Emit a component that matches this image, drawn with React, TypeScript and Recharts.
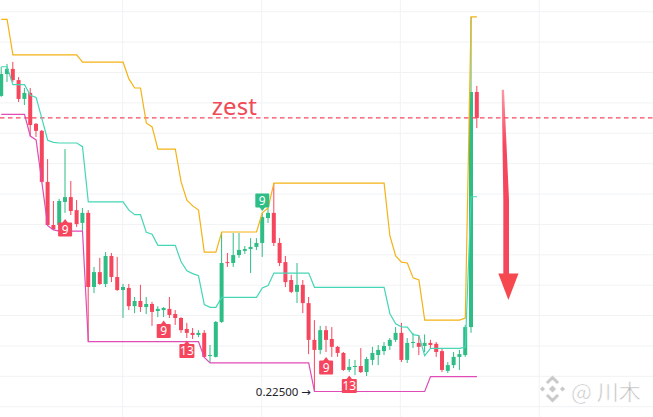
import React from "react";
import {
  ComposedChart,
  Bar,
  Line,
  XAxis,
  YAxis,
  CartesianGrid,
  ReferenceLine,
  ReferenceDot,
  ReferenceArea,
} from "recharts";

// ---- candle values (price) ----
const opens = [
  0.3223, 0.3295, 0.3312, 0.3275, 0.3213, 0.3233, 0.3131, 0.3108, 0.294, 0.2798,
  0.2798, 0.2874, 0.289, 0.2847, 0.2805, 0.2838, 0.2594, 0.2643, 0.2604, 0.2696,
  0.2627, 0.2584, 0.2591, 0.2531, 0.2548, 0.2528, 0.2538, 0.2515, 0.2518, 0.2522,
  0.2505, 0.2492, 0.2456, 0.2443, 0.2436, 0.2443, 0.2367, 0.2364, 0.2479, 0.2676,
  0.2673, 0.2699, 0.2713, 0.2719, 0.2726, 0.2739, 0.2821, 0.2838, 0.2739, 0.2676,
  0.2617, 0.2578, 0.2601, 0.2541, 0.242, 0.2387, 0.2452, 0.2423, 0.2397, 0.2377,
  0.2321, 0.2331, 0.2334, 0.2314, 0.2354, 0.237, 0.2383, 0.24, 0.242, 0.2443,
  0.2354, 0.241, 0.241, 0.24, 0.241, 0.2407, 0.2383, 0.2318, 0.2337, 0.2364,
  0.237, 0.2462, 0.3236,
];
const highs = [
  0.3318, 0.3328, 0.3335, 0.3285, 0.3249, 0.3249, 0.3134, 0.3111, 0.3015, 0.2877,
  0.2884, 0.3048, 0.2943, 0.288, 0.2854, 0.2847, 0.266, 0.269, 0.2709, 0.2706,
  0.2693, 0.2604, 0.2604, 0.2561, 0.2601, 0.2561, 0.2545, 0.2531, 0.2528, 0.2561,
  0.2518, 0.2495, 0.2476, 0.2459, 0.2452, 0.2452, 0.2403, 0.2482, 0.2775, 0.2706,
  0.2772, 0.2772, 0.2729, 0.2755, 0.2755, 0.2838, 0.2854, 0.2936, 0.2755, 0.2696,
  0.2634, 0.2673, 0.2617, 0.2561, 0.2485, 0.2466, 0.2466, 0.2462, 0.24, 0.238,
  0.2357, 0.2354, 0.2393, 0.2364, 0.2397, 0.2403, 0.2413, 0.2426, 0.2462, 0.2476,
  0.2426, 0.2443, 0.2436, 0.2438, 0.242, 0.2413, 0.239, 0.2347, 0.238, 0.2387,
  0.2469, 0.3483, 0.3256,
];
const lows = [
  0.322, 0.3269, 0.3269, 0.3203, 0.3193, 0.3091, 0.3088, 0.2938, 0.2796, 0.2782,
  0.2788, 0.2838, 0.2831, 0.2792, 0.2778, 0.2414, 0.2574, 0.2601, 0.2594, 0.261,
  0.2581, 0.2492, 0.2518, 0.2508, 0.2512, 0.2505, 0.2466, 0.2495, 0.2495, 0.2492,
  0.2469, 0.2443, 0.2426, 0.2423, 0.2429, 0.2362, 0.2344, 0.2362, 0.2476, 0.266,
  0.266, 0.269, 0.2703, 0.264, 0.2716, 0.2693, 0.2805, 0.2729, 0.2663, 0.2594,
  0.2574, 0.2541, 0.2508, 0.2373, 0.225, 0.2373, 0.238, 0.2364, 0.2364, 0.2318,
  0.2314, 0.2304, 0.2311, 0.2301, 0.2337, 0.2337, 0.237, 0.2387, 0.2413, 0.2347,
  0.2344, 0.2393, 0.237, 0.238, 0.2393, 0.2364, 0.2314, 0.2311, 0.2327, 0.2321,
  0.2364, 0.2443, 0.3117,
];
const closes = [
  0.3295, 0.3312, 0.3275, 0.3213, 0.3233, 0.3127, 0.3108, 0.294, 0.2798, 0.2784,
  0.2877, 0.289, 0.2844, 0.2801, 0.2838, 0.2594, 0.2643, 0.2604, 0.2696, 0.2627,
  0.2584, 0.2594, 0.2531, 0.2548, 0.2528, 0.2538, 0.2512, 0.2522, 0.2525, 0.2502,
  0.2492, 0.2452, 0.2443, 0.2436, 0.2443, 0.2364, 0.237, 0.2479, 0.2673, 0.2673,
  0.2699, 0.2716, 0.2719, 0.2726, 0.2739, 0.2824, 0.2838, 0.2739, 0.2673, 0.261,
  0.2578, 0.2601, 0.2541, 0.242, 0.2387, 0.2452, 0.242, 0.2397, 0.2377, 0.2321,
  0.2331, 0.2334, 0.2314, 0.2357, 0.2377, 0.2387, 0.24, 0.242, 0.2443, 0.2354,
  0.241, 0.2413, 0.2397, 0.241, 0.2403, 0.238, 0.2321, 0.2337, 0.2364, 0.2373,
  0.2462, 0.3236, 0.315,
];

// ---- channel lines (price) ----
const upperBand = [
  0.3475, 0.3475, 0.3358, 0.3358, 0.3358, 0.3358, 0.3358, 0.3358, 0.3358, 0.3358,
  0.3358, 0.3358, 0.3358, 0.3358, 0.3334, 0.3334, 0.3334, 0.3334, 0.3334, 0.3334,
  0.3334, 0.3334, 0.3279, 0.3249, 0.3249, 0.3134, 0.3121, 0.3048, 0.3048, 0.3048,
  0.3048, 0.294, 0.288, 0.2861, 0.2847, 0.2709, 0.2709, 0.2709, 0.2775, 0.2775,
  0.2775, 0.2775, 0.2775, 0.2775, 0.2775, 0.2838, 0.2854, 0.2936, 0.2936, 0.2936,
  0.2936, 0.2936, 0.2936, 0.2936, 0.2936, 0.2936, 0.2936, 0.2936, 0.2936, 0.2936,
  0.2936, 0.2936, 0.2936, 0.2936, 0.2936, 0.2936, 0.2936, 0.2762, 0.2696, 0.2676,
  0.2673, 0.2624, 0.2617, 0.2485, 0.2485, 0.2485, 0.2485, 0.2485, 0.2485, 0.2485,
  0.2492, 0.3483, 0.3483,
];
const middleBand = [
  0.3319, 0.3319, 0.326, 0.326, 0.326, 0.3225, 0.3218, 0.3148, 0.3077, 0.307,
  0.3068, 0.3068, 0.3068, 0.3068, 0.3056, 0.2874, 0.2874, 0.2874, 0.2874, 0.2874,
  0.2874, 0.2874, 0.2847, 0.2832, 0.2832, 0.2774, 0.2768, 0.2731, 0.2731, 0.2731,
  0.2731, 0.2677, 0.2647, 0.2638, 0.2631, 0.2536, 0.2527, 0.2527, 0.256, 0.256,
  0.256, 0.256, 0.256, 0.256, 0.256, 0.2591, 0.2599, 0.264, 0.264, 0.264,
  0.264, 0.264, 0.264, 0.264, 0.2593, 0.2593, 0.2593, 0.2593, 0.2593, 0.2593,
  0.2593, 0.2593, 0.2593, 0.2593, 0.2593, 0.2593, 0.2593, 0.2506, 0.2473, 0.2463,
  0.2462, 0.2437, 0.2434, 0.2368, 0.2392, 0.2392, 0.2392, 0.2392, 0.2392, 0.2392,
  0.2396, 0.2891, 0.2891,
];
const lowerBand = [
  0.3162, 0.3162, 0.3162, 0.3162, 0.3162, 0.3091, 0.3078, 0.2938, 0.2796, 0.2782,
  0.2778, 0.2778, 0.2778, 0.2778, 0.2778, 0.2414, 0.2414, 0.2414, 0.2414, 0.2414,
  0.2414, 0.2414, 0.2414, 0.2414, 0.2414, 0.2414, 0.2414, 0.2414, 0.2414, 0.2414,
  0.2414, 0.2414, 0.2414, 0.2414, 0.2414, 0.2362, 0.2344, 0.2344, 0.2344, 0.2344,
  0.2344, 0.2344, 0.2344, 0.2344, 0.2344, 0.2344, 0.2344, 0.2344, 0.2344, 0.2344,
  0.2344, 0.2344, 0.2344, 0.2344, 0.225, 0.225, 0.225, 0.225, 0.225, 0.225,
  0.225, 0.225, 0.225, 0.225, 0.225, 0.225, 0.225, 0.225, 0.225, 0.225,
  0.225, 0.225, 0.225, 0.225, 0.2299, 0.2299, 0.2299, 0.2299, 0.2299, 0.2299,
  0.2299, 0.2299, 0.2299,
];

// ---- sequential count markers ----
const markerIndex = [11, 28, 32, 45, 56, 60];
const markerText = ["9", "9", "13", "9", "9", "13"];
const markerSide = ["below", "below", "below", "above", "below", "below"];
const markerPrice = [0.2818, 0.2484, 0.2418, 0.2844, 0.2364, 0.2303];

// ---- annotations ----
const alertPrice = 0.3151;
const alertLabel = "zest";
const alertLabelIndex = 36.3;
const alertLabelPrice = 0.316;
const lowLabel = "0.22500 →";
const lowLabelIndex = 54;
const lowLabelPrice = 0.225;
const arrowIndex = [85.69, 89.17];
const arrowPrice = [0.2551, 0.3243];

// ---- axes / grid ----
const gridPrices = [0.22, 0.23, 0.24, 0.25, 0.26, 0.27, 0.28, 0.29, 0.3, 0.31, 0.32, 0.33, 0.34, 0.35];
const gridIndexes = [20.93, 44.9, 68.8, 92.75];
const xDomain = [-0.224, 112.36];
const yDomain = [0.21661, 0.35387];

const UP = "#2EBD85";
const DOWN = "#F6465D";
const FONT = "'Noto Sans', 'DejaVu Sans', sans-serif";

const data = opens.map((o, i) => ({
  i,
  open: o,
  high: highs[i],
  low: lows[i],
  close: closes[i],
  range: [lows[i], highs[i]],
  upper: upperBand[i],
  middle: middleBand[i],
  lower: lowerBand[i],
}));

function Candle(props: any) {
  const { x, y, width, height, payload } = props;
  if (x == null || y == null || !payload) return null;
  const top = Math.min(y, y + height);
  const h = Math.abs(height);
  const { open, close, high, low } = payload;
  const span = high - low || 1e-9;
  const py = (p: number) => top + ((high - p) / span) * h;
  const cx = x + width / 2;
  const color = close >= open ? UP : DOWN;
  const bt = py(Math.max(open, close));
  const bb = py(Math.min(open, close));
  const bw = 4;
  return (
    <g>
      <line x1={cx} x2={cx} y1={py(high)} y2={py(low)} stroke={color} strokeWidth={1} />
      <rect x={cx - bw / 2} y={bt} width={bw} height={Math.max(1, bb - bt)} fill={color} />
    </g>
  );
}

function Marker(props: any) {
  const { cx, cy, text, side } = props;
  if (cx == null || cy == null) return null;
  const w = text.length > 1 ? 15 : 14;
  const h = 14;
  const color = side === "above" ? UP : DOWN;
  if (side === "above") {
    const rt = cy - 3.5 - h;
    return (
      <g>
        <path d={`M${cx - 3},${cy - 4} L${cx},${cy} L${cx + 3},${cy - 4} Z`} fill={color} />
        <rect x={cx - w / 2} y={rt} width={w} height={h} fill={color} rx={1} />
        <text x={cx} y={rt + h / 2 + 4.3} textAnchor="middle" fill="#fff" fontSize={12} fontFamily={FONT}>
          {text}
        </text>
      </g>
    );
  }
  const rt = cy + 3.5;
  return (
    <g>
      <path d={`M${cx - 3},${cy + 4} L${cx},${cy} L${cx + 3},${cy + 4} Z`} fill={color} />
      <rect x={cx - w / 2} y={rt} width={w} height={h} fill={color} rx={1} />
      <text x={cx} y={rt + h / 2 + 4.3} textAnchor="middle" fill="#fff" fontSize={12} fontFamily={FONT}>
        {text}
      </text>
    </g>
  );
}

function Arrow(props: any) {
  const { x, y, width, height } = props;
  if (x == null || y == null) return null;
  const P = (fx: number, fy: number) => `${x + fx * width},${y + fy * height}`;
  const shaft = [P(0.168, 0), P(0.282, 0), P(0.53, 0.524), P(0.53, 0.89), P(0.248, 0.89), P(0.248, 0.524)].join(" ");
  const head = [P(0, 0.874), P(1, 0.874), P(0.5, 1)].join(" ");
  return (
    <g>
      <defs>
        <linearGradient id="arrowGrad" x1="0" y1="0" x2="0" y2="1">
          <stop offset="0" stopColor={DOWN} stopOpacity={0.55} />
          <stop offset="0.3" stopColor={DOWN} stopOpacity={1} />
          <stop offset="1" stopColor={DOWN} stopOpacity={1} />
        </linearGradient>
      </defs>
      <polygon points={shaft} fill="url(#arrowGrad)" />
      <polygon points={head} fill="#F5484F" />
    </g>
  );
}

function Watermark() {
  const cx = 552.5;
  const cy = 389;
  const d = (x: number, y: number, r: number) =>
    `M${x},${y - r} L${x + r},${y} L${x},${y + r} L${x - r},${y} Z`;
  return (
    <svg
      width={653}
      height={417}
      style={{ position: "absolute", left: 0, top: 0, pointerEvents: "none" }}
    >
      <g fill="#c9c9c9" stroke="#ffffff" strokeWidth={0.8}>
        <path d={d(cx, cy, 4)} />
        <path d={d(cx - 10, cy, 3)} />
        <path d={d(cx + 10, cy, 3)} />
        <path d={`M${cx},${cy - 14} L${cx + 7},${cy - 7} L${cx + 4.5},${cy - 4.5} L${cx},${cy - 9} L${cx - 4.5},${cy - 4.5} L${cx - 7},${cy - 7} Z`} />
        <path d={`M${cx},${cy + 14} L${cx + 7},${cy + 7} L${cx + 4.5},${cy + 4.5} L${cx},${cy + 9} L${cx - 4.5},${cy + 4.5} L${cx - 7},${cy + 7} Z`} />
      </g>
      <text
        x={571}
        y={399.5}
        fill="#bdbdbd"
        stroke="#ffffff"
        strokeWidth={0.6}
        fontSize={22}
        fontFamily="'Noto Sans CJK SC', 'Noto Sans', sans-serif"
      >
        @ 川木
      </text>
    </svg>
  );
}

export default function App() {
  return (
    <div style={{ position: "absolute", left: 0, top: 0, width: 653, height: 417, background: "#fff", overflow: "hidden" }}>
      <ComposedChart width={653} height={417} data={data} margin={{ top: 0, right: 0, bottom: 0, left: 0 }}>
        <CartesianGrid stroke="#f1f2f4" horizontalValues={gridPrices} verticalValues={gridIndexes} />
        <XAxis dataKey="i" type="number" domain={xDomain} hide allowDataOverflow />
        <YAxis type="number" domain={yDomain} hide allowDataOverflow />
        <ReferenceLine y={alertPrice} stroke={DOWN} strokeDasharray="4.5 3.5" strokeWidth={1.3} />
        <Line dataKey="upper" type="linear" stroke="#F5B215" strokeWidth={1.2} dot={false} activeDot={false} isAnimationActive={false} />
        <Line dataKey="middle" type="linear" stroke="#45D6B6" strokeWidth={1.2} dot={false} activeDot={false} isAnimationActive={false} />
        <Line dataKey="lower" type="linear" stroke="#E04BB6" strokeWidth={1.2} dot={false} activeDot={false} isAnimationActive={false} />
        <Bar dataKey="range" barSize={3.6} shape={(p: any) => <Candle {...p} />} isAnimationActive={false} />
        {markerIndex.map((mi, k) => (
          <ReferenceDot
            key={`m${k}`}
            x={mi}
            y={markerPrice[k]}
            r={0}
            ifOverflow="visible"
            shape={(p: any) => <Marker {...p} text={markerText[k]} side={markerSide[k]} />}
          />
        ))}
        <ReferenceDot
          x={alertLabelIndex}
          y={alertLabelPrice}
          r={0}
          ifOverflow="visible"
          shape={(p: any) =>
            p.cx == null ? null : (
              <text x={p.cx} y={p.cy} fill="#F04A57" fontSize={24} fontFamily={FONT}>
                {alertLabel}
              </text>
            )
          }
        />
        <ReferenceDot
          x={lowLabelIndex}
          y={lowLabelPrice}
          r={0}
          ifOverflow="visible"
          shape={(p: any) =>
            p.cx == null ? null : (
              <text x={p.cx - 3.5} y={p.cy + 4} textAnchor="end" fill="#1E2329" fontSize={11.5} fontFamily={FONT}>
                {lowLabel}
              </text>
            )
          }
        />
        <ReferenceArea
          x1={arrowIndex[0]}
          x2={arrowIndex[1]}
          y1={arrowPrice[0]}
          y2={arrowPrice[1]}
          ifOverflow="visible"
          shape={(p: any) => <Arrow {...p} />}
        />
      </ComposedChart>
      <Watermark />
    </div>
  );
}
